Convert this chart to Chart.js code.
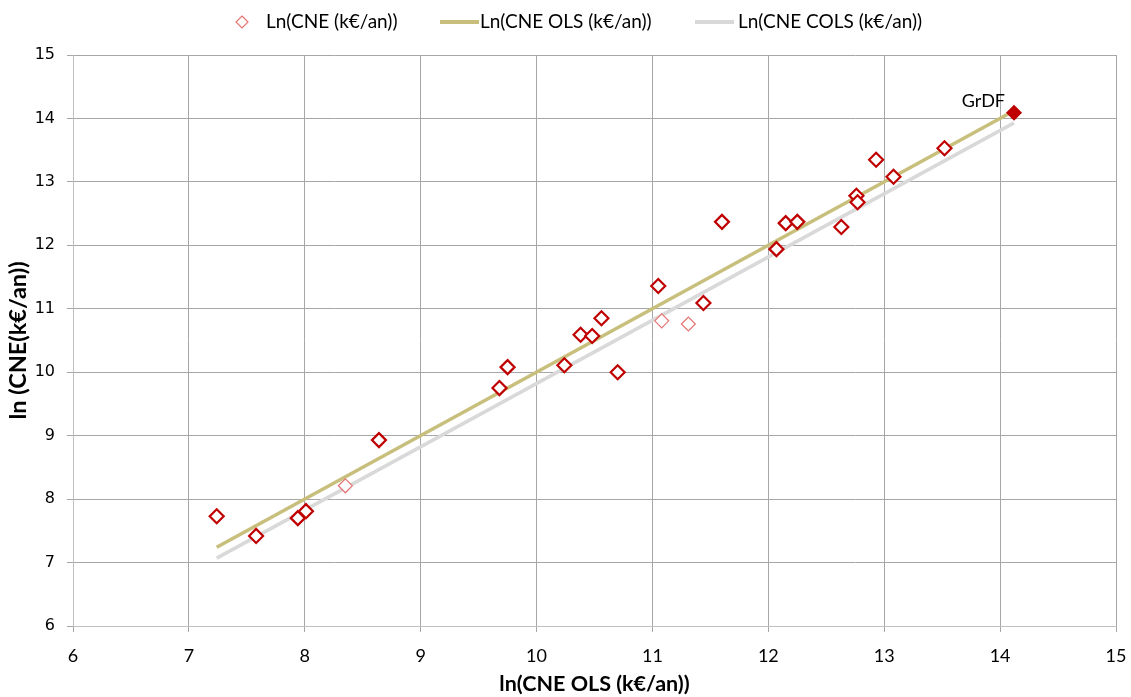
<!DOCTYPE html>
<html>
<head>
<meta charset="utf-8">
<script src="https://cdn.jsdelivr.net/npm/chart.js@4.4.1/dist/chart.umd.min.js"></script>
<style>
  html, body { margin: 0; padding: 0; background: #ffffff; }
  #wrap { width: 1131px; height: 697px; }
</style>
</head>
<body>
<div id="wrap"><canvas id="c" width="1131" height="697"></canvas></div>
<script>
// ---- data ----
const xValues = [7.24, 7.58, 7.94, 8.01, 8.35, 8.64, 9.68, 9.75, 10.24, 10.38, 10.48, 10.56, 10.70, 11.05, 11.08, 11.31, 11.44, 11.60, 12.07, 12.15, 12.25, 12.63, 12.76, 12.77, 12.93, 13.08, 13.52, 14.12];
const yValues = [7.73, 7.42, 7.70, 7.81, 8.21, 8.93, 9.75, 10.08, 10.11, 10.59, 10.57, 10.85, 10.00, 11.36, 10.81, 10.76, 11.09, 12.37, 11.94, 12.35, 12.37, 12.29, 12.78, 12.68, 13.35, 13.08, 13.53, 14.09];
const pointNames = Array(27).fill('').concat(['GrDF']);
const fadedIdx = [4, 14, 15];
const olsX = [7.24, 14.12];
const olsY = [7.24, 14.12];
const colsX = [7.24, 14.12];
const colsY = [7.07, 13.93];
const seriesNames = ['Ln(CNE (k€/an))', 'Ln(CNE OLS (k€/an))', 'Ln(CNE COLS (k€/an))'];
const xTicks = [6, 7, 8, 9, 10, 11, 12, 13, 14, 15];
const yTicks = [6, 7, 8, 9, 10, 11, 12, 13, 14, 15];
const xTitle = 'ln(CNE OLS (k€/an))';
const yTitle = 'ln (CNE(k€/an))';

// ---- styles ----
const RED = '#C00000';
const RED_LIGHT = '#E57373';
const OLS_COLOR = '#C7BF7B';
const COLS_COLOR = '#D9D9D9';
const GRID = '#A6A6A6';
const AXIS = '#BFBFBF';
const LABEL_FONT = 'Lato, "Liberation Sans", sans-serif';

const pts = xValues.map((x, i) => ({ x: x, y: yValues[i] }));
const isNamed = i => pointNames[i] !== '';
const isFaded = i => fadedIdx.includes(i);

const customLegend = {
  id: 'customLegend',
  afterDraw(chart) {
    const ctx = chart.ctx;
    ctx.save();
    ctx.font = '19px ' + LABEL_FONT;
    ctx.fillStyle = '#000';
    ctx.textBaseline = 'middle';
    ctx.textAlign = 'left';
    const y = 22;
    ctx.beginPath();
    const cx = 242, r = 6;
    ctx.moveTo(cx, y - r); ctx.lineTo(cx + r, y); ctx.lineTo(cx, y + r); ctx.lineTo(cx - r, y); ctx.closePath();
    ctx.fillStyle = '#fff'; ctx.fill();
    ctx.strokeStyle = RED_LIGHT; ctx.lineWidth = 1.2; ctx.stroke();
    ctx.fillStyle = '#000';
    ctx.fillText(seriesNames[0], 266, y);
    ctx.beginPath(); ctx.moveTo(440, y); ctx.lineTo(479, y);
    ctx.strokeStyle = OLS_COLOR; ctx.lineWidth = 4; ctx.stroke();
    ctx.fillText(seriesNames[1], 480, y);
    ctx.beginPath(); ctx.moveTo(695, y); ctx.lineTo(734, y);
    ctx.strokeStyle = COLS_COLOR; ctx.lineWidth = 4; ctx.stroke();
    ctx.fillText(seriesNames[2], 738, y);
    ctx.restore();
  }
};

const pointLabelsPlugin = {
  id: 'pointLabels',
  afterDatasetsDraw(chart) {
    const meta = chart.getDatasetMeta(0);
    const ctx = chart.ctx;
    ctx.save();
    ctx.font = '18px ' + LABEL_FONT;
    ctx.fillStyle = '#000';
    ctx.textAlign = 'right';
    ctx.textBaseline = 'middle';
    meta.data.forEach((el, i) => {
      if (isNamed(i)) ctx.fillText(pointNames[i], el.x - 9, el.y - 12);
    });
    ctx.restore();
  }
};

new Chart(document.getElementById('c'), {
  type: 'scatter',
  data: {
    datasets: [
      {
        label: seriesNames[0],
        data: pts,
        pointStyle: 'rectRot',
        pointRadius: ctx => isNamed(ctx.dataIndex) ? 6.5 : 7,
        pointHoverRadius: 7,
        pointBorderWidth: ctx => isFaded(ctx.dataIndex) ? 1.2 : 2.2,
        pointBorderColor: ctx => isFaded(ctx.dataIndex) ? RED_LIGHT : RED,
        pointBackgroundColor: ctx => isNamed(ctx.dataIndex) ? RED : '#ffffff',
        showLine: false
      },
      {
        label: seriesNames[1],
        data: olsX.map((x, i) => ({ x: x, y: olsY[i] })),
        showLine: true,
        borderColor: OLS_COLOR,
        borderWidth: 3.5,
        pointRadius: 0,
        fill: false
      },
      {
        label: seriesNames[2],
        data: colsX.map((x, i) => ({ x: x, y: colsY[i] })),
        showLine: true,
        borderColor: COLS_COLOR,
        borderWidth: 3.5,
        pointRadius: 0,
        fill: false
      }
    ]
  },
  options: {
    responsive: false,
    animation: false,
    layout: { padding: { top: 55, right: 15, left: 0, bottom: 0 } },
    plugins: {
      legend: { display: false },
      tooltip: { enabled: false }
    },
    scales: {
      x: {
        type: 'linear',
        min: xTicks[0], max: xTicks[xTicks.length - 1],
        afterBuildTicks: s => { s.ticks = xTicks.map(v => ({ value: v })); },
        afterFit: s => { s.height = 71; s.paddingLeft = 0; s.paddingRight = 0; },
        grid: { color: GRID, lineWidth: 1, tickLength: 6, tickColor: GRID, drawTicks: true },
        border: { color: AXIS, width: 1 },
        ticks: { color: '#000', font: { family: LABEL_FONT, size: 18 }, padding: 13, maxRotation: 0 },
        title: { display: true, text: xTitle, color: '#000', font: { family: LABEL_FONT, size: 21.5, weight: 'bold' }, padding: { top: 0, bottom: 0 } }
      },
      y: {
        type: 'linear',
        min: yTicks[0], max: yTicks[yTicks.length - 1],
        afterBuildTicks: s => { s.ticks = yTicks.map(v => ({ value: v })); },
        afterFit: s => { s.width = 73; s.paddingTop = 0; s.paddingBottom = 0; },
        grid: { color: GRID, lineWidth: 1, tickLength: 6, tickColor: GRID, drawTicks: true },
        border: { color: AXIS, width: 1 },
        ticks: { color: '#000', font: { family: '"DejaVu Sans", Verdana, sans-serif', size: 16 }, padding: 12 },
        title: { display: true, text: yTitle, color: '#000', font: { family: LABEL_FONT, size: 23.5, weight: 'bold' }, padding: { top: 4, bottom: 0 } }
      }
    }
  },
  plugins: [customLegend, pointLabelsPlugin]
});
</script>
</body>
</html>
